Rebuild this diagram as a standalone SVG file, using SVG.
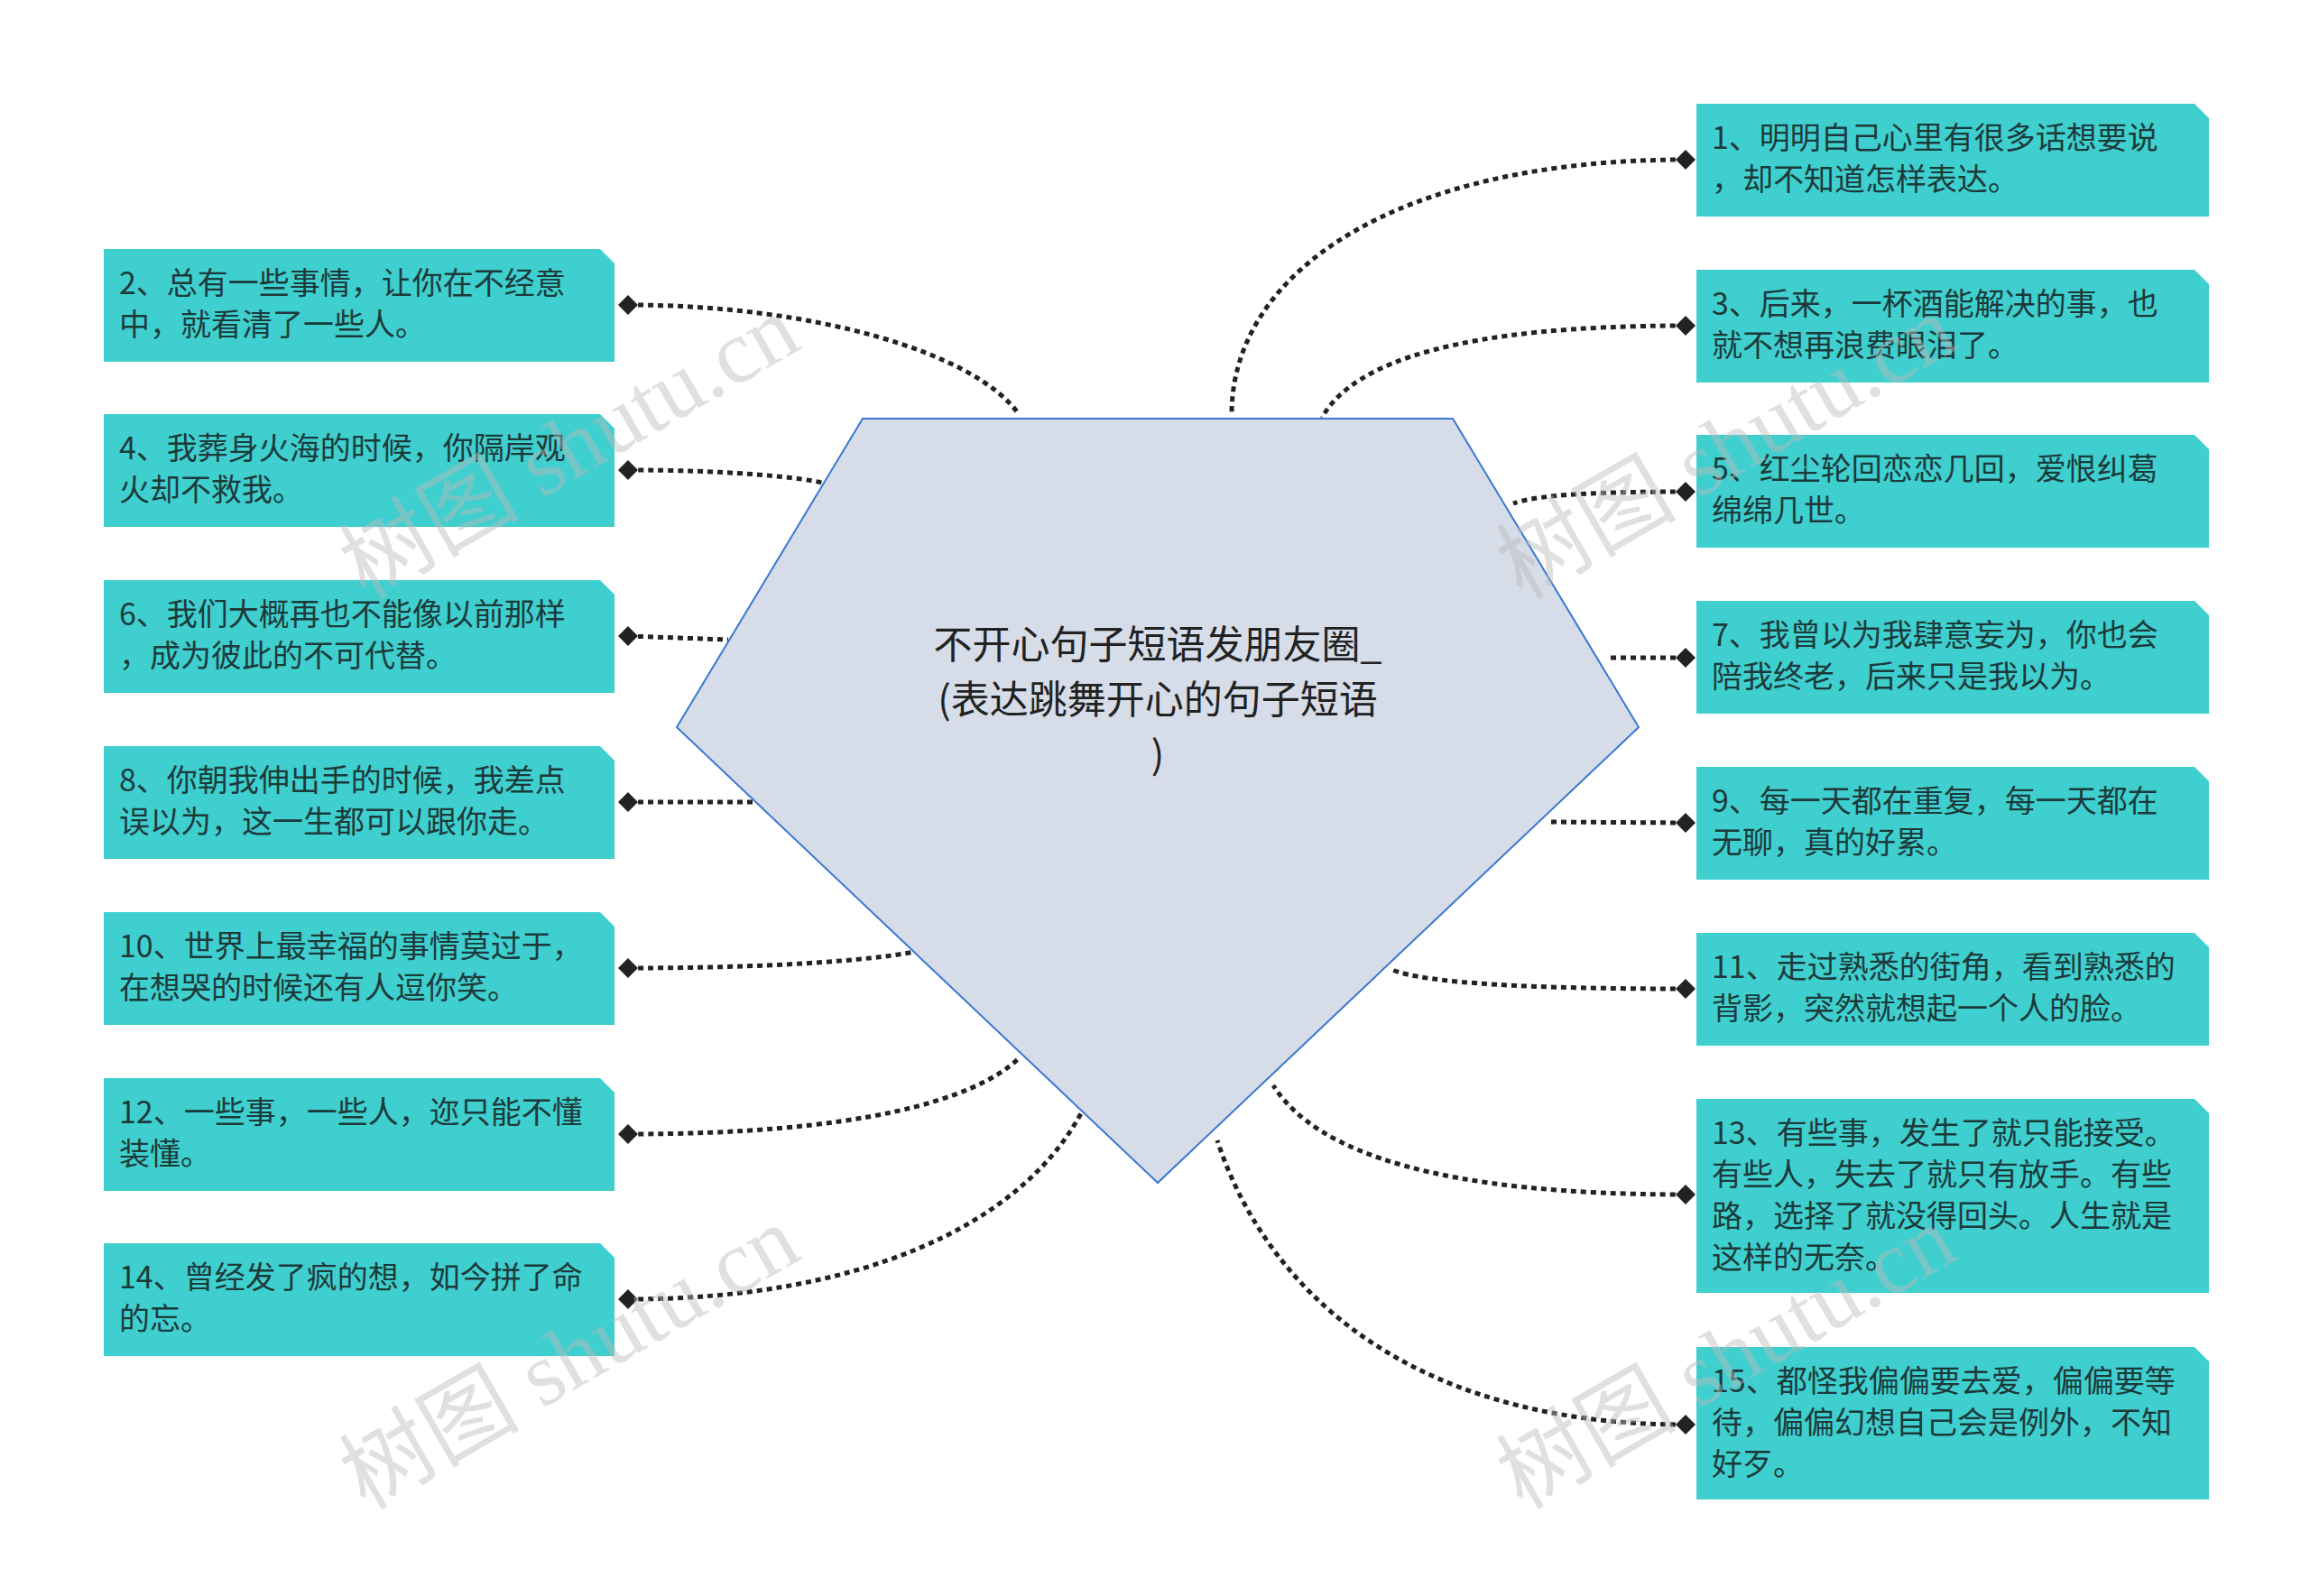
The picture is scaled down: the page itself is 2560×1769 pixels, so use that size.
<svg xmlns="http://www.w3.org/2000/svg" width="2560" height="1769" viewBox="0 0 2560 1769">
<style>
.box{fill:#3fcfcf}
.t{font-family:"Noto Sans CJK SC","Noto Sans",sans-serif;font-size:34px;fill:#1d3a3a}
.c{fill:none;stroke:#222;stroke-width:5;stroke-dasharray:6 5}
.wm{font-family:"Liberation Serif","Noto Sans CJK SC",serif;font-size:100px;fill:#bbb;opacity:.45}
</style>
<defs><path id="d" d="M-11 0L0-11L11 0L0 11Z" fill="#222"/></defs>
<rect width="2560" height="1769" fill="#fff"/>
<g id="connectors">
<path class="c" d="M1868 177C1550 177 1365 300 1365 459"/>
<path class="c" d="M1868 361C1620 361 1500 400 1465 463"/>
<path class="c" d="M1868 545C1750 545 1700 550 1677 558"/>
<path class="c" d="M1868 729L1781 729"/>
<path class="c" d="M1868 912L1715 911"/>
<path class="c" d="M1868 1096C1700 1096 1580 1090 1543 1075"/>
<path class="c" d="M1868 1324C1600 1324 1460 1280 1411 1203"/>
<path class="c" d="M1868 1579C1550 1579 1400 1420 1349 1264"/>
<path class="c" d="M696 338C900 338 1080 390 1129 459"/>
<path class="c" d="M696 521C800 521 880 528 911 535"/>
<path class="c" d="M696 705L807 709"/>
<path class="c" d="M696 889L834 889"/>
<path class="c" d="M696 1073C850 1073 960 1065 1014 1055"/>
<path class="c" d="M696 1257C950 1257 1080 1220 1129 1173"/>
<path class="c" d="M696 1440C950 1440 1130 1360 1198 1234"/>
<use href="#d" x="1868" y="177"/><use href="#d" x="1868" y="361"/><use href="#d" x="1868" y="545"/><use href="#d" x="1868" y="729"/><use href="#d" x="1868" y="912"/><use href="#d" x="1868" y="1096"/><use href="#d" x="1868" y="1324"/><use href="#d" x="1868" y="1579"/>
<use href="#d" x="696" y="338"/><use href="#d" x="696" y="521"/><use href="#d" x="696" y="705"/><use href="#d" x="696" y="889"/><use href="#d" x="696" y="1073"/><use href="#d" x="696" y="1257"/><use href="#d" x="696" y="1440"/>
</g>
<g id="center">
<polygon points="956,464 1610,464 1816,806 1283,1311 750,806" fill="#d6dde8" stroke="#3a78d0" stroke-width="2"/>
<text x="1283" y="730" text-anchor="middle" style="font-family:'Noto Sans CJK SC',sans-serif;font-size:43px;fill:#222"><tspan x="1283">不开心句子短语发朋友圈_</tspan><tspan x="1283" dy="61">(表达跳舞开心的句子短语</tspan><tspan x="1283" dy="61">)</tspan></text>
</g>
<g id="n1"><path class="box" d="M1880 115H2432L2448 131V240H1880Z"/><text class="t" y="165"><tspan x="1897">1、明明自己心里有很多话想要说</tspan><tspan x="1897" dy="46">，却不知道怎样表达。</tspan></text></g>
<g id="n3"><path class="box" d="M1880 299H2432L2448 315V424H1880Z"/><text class="t" y="349"><tspan x="1897">3、后来，一杯酒能解决的事，也</tspan><tspan x="1897" dy="46">就不想再浪费眼泪了。</tspan></text></g>
<g id="n5"><path class="box" d="M1880 482H2432L2448 498V607H1880Z"/><text class="t" y="532"><tspan x="1897">5、红尘轮回恋恋几回，爱恨纠葛</tspan><tspan x="1897" dy="46">绵绵几世。</tspan></text></g>
<g id="n7"><path class="box" d="M1880 666H2432L2448 682V791H1880Z"/><text class="t" y="716"><tspan x="1897">7、我曾以为我肆意妄为，你也会</tspan><tspan x="1897" dy="46">陪我终老，后来只是我以为。</tspan></text></g>
<g id="n9"><path class="box" d="M1880 850H2432L2448 866V975H1880Z"/><text class="t" y="900"><tspan x="1897">9、每一天都在重复，每一天都在</tspan><tspan x="1897" dy="46">无聊，真的好累。</tspan></text></g>
<g id="n11"><path class="box" d="M1880 1034H2432L2448 1050V1159H1880Z"/><text class="t" y="1084"><tspan x="1897">11、走过熟悉的街角，看到熟悉的</tspan><tspan x="1897" dy="46">背影，突然就想起一个人的脸。</tspan></text></g>
<g id="n13"><path class="box" d="M1880 1218H2432L2448 1234V1433H1880Z"/><text class="t" y="1268"><tspan x="1897">13、有些事，发生了就只能接受。</tspan><tspan x="1897" dy="46">有些人，失去了就只有放手。有些</tspan><tspan x="1897" dy="46">路，选择了就没得回头。人生就是</tspan><tspan x="1897" dy="46">这样的无奈。</tspan></text></g>
<g id="n15"><path class="box" d="M1880 1493H2432L2448 1509V1662H1880Z"/><text class="t" y="1543"><tspan x="1897">15、都怪我偏偏要去爱，偏偏要等</tspan><tspan x="1897" dy="46">待，偏偏幻想自己会是例外，不知</tspan><tspan x="1897" dy="46">好歹。</tspan></text></g>
<g id="n2"><path class="box" d="M115 276H665L681 292V401H115Z"/><text class="t" y="326"><tspan x="132">2、总有一些事情，让你在不经意</tspan><tspan x="132" dy="46">中，就看清了一些人。</tspan></text></g>
<g id="n4"><path class="box" d="M115 459H665L681 475V584H115Z"/><text class="t" y="509"><tspan x="132">4、我葬身火海的时候，你隔岸观</tspan><tspan x="132" dy="46">火却不救我。</tspan></text></g>
<g id="n6"><path class="box" d="M115 643H665L681 659V768H115Z"/><text class="t" y="693"><tspan x="132">6、我们大概再也不能像以前那样</tspan><tspan x="132" dy="46">，成为彼此的不可代替。</tspan></text></g>
<g id="n8"><path class="box" d="M115 827H665L681 843V952H115Z"/><text class="t" y="877"><tspan x="132">8、你朝我伸出手的时候，我差点</tspan><tspan x="132" dy="46">误以为，这一生都可以跟你走。</tspan></text></g>
<g id="n10"><path class="box" d="M115 1011H665L681 1027V1136H115Z"/><text class="t" y="1061"><tspan x="132">10、世界上最幸福的事情莫过于，</tspan><tspan x="132" dy="46">在想哭的时候还有人逗你笑。</tspan></text></g>
<g id="n12"><path class="box" d="M115 1195H665L681 1211V1320H115Z"/><text class="t" y="1245"><tspan x="132">12、一些事，一些人，迩只能不懂</tspan><tspan x="132" dy="46">装懂。</tspan></text></g>
<g id="n14"><path class="box" d="M115 1378H665L681 1394V1503H115Z"/><text class="t" y="1428"><tspan x="132">14、曾经发了疯的想，如今拼了命</tspan><tspan x="132" dy="46">的忘。</tspan></text></g>
<g id="watermarks">
<text class="wm" transform="translate(648,525) rotate(-30)" text-anchor="middle">树图 shutu.cn</text>
<text class="wm" transform="translate(1930,525) rotate(-30)" text-anchor="middle">树图 shutu.cn</text>
<text class="wm" transform="translate(648,1534) rotate(-30)" text-anchor="middle">树图 shutu.cn</text>
<text class="wm" transform="translate(1930,1534) rotate(-30)" text-anchor="middle">树图 shutu.cn</text>
</g>
</svg>
